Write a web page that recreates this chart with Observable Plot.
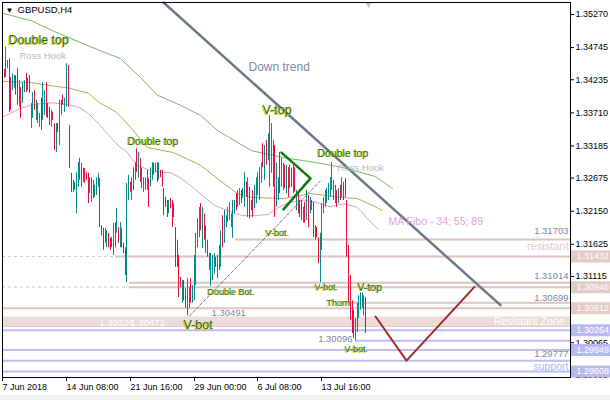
<!DOCTYPE html>
<html><head><meta charset="utf-8">
<script src="https://cdn.jsdelivr.net/npm/d3@7"></script>
<script src="https://cdn.jsdelivr.net/npm/@observablehq/plot@0.6"></script>
<style>
body{margin:0;background:#f0f0f0;}
#chart svg{display:block;background:#fff;}
</style></head><body><div id="chart"></div>
<script>
// ---- H4 bars (high / low / direction), bar index = H4 bar count from 7 Jun 2018 00:00
const barHigh = [
1.3435,1.3440,1.3475,1.3454,1.3457,1.3427,1.3433,1.3430,1.3430,1.3441,
1.3422,1.3411,1.3419,1.3422,1.3433,1.3426,1.3430,1.3386,1.3403,1.3406,
1.3391,1.3386,1.3370,1.3394,1.3419,1.3406,1.3419,1.3386,1.3380,1.3375,
1.3372,1.3354,1.3354,1.3354,1.3391,1.3391,1.3399,1.3394,1.3449,1.3446,
1.3351,1.3275,1.3264,1.3261,1.3276,1.3292,1.3299,1.3291,1.3283,1.3283,
1.3276,1.3275,1.3268,1.3268,1.3264,1.3256,1.3268,1.3275,1.3267,1.3192,
1.3188,1.3188,1.3184,1.3180,1.3172,1.3173,1.3196,1.3197,1.3219,1.3189,
1.3197,1.3188,1.3164,1.3157,1.3259,
1.3272,1.3261,1.3268,1.3284,1.3292,1.3314,1.3308,1.3299,1.3283,1.3268,
1.3268,1.3280,1.3267,1.3284,1.3292,1.3291,1.3291,1.3292,1.3291,1.3280,
1.3280,1.3251,1.3237,1.3232,1.3232,1.3235,1.3232,1.3227,1.3189,1.3169,
1.3145,1.3110,1.3105,1.3105,1.3092,1.3108,1.3094,1.3108,1.3097,1.3145,
1.3180,1.3203,1.3221,1.3227,1.3221,1.3211,1.3192,1.3169,1.3148,1.3148,
1.3145,1.3148,1.3142,1.3145,1.3161,1.3184,1.3208,1.3216,1.3208,1.3221,
1.3229,1.3211,1.3232,1.3232,1.3243,1.3248,1.3251,1.3248,1.3251,1.3276,
1.3261,1.3268,1.3253,1.3232,
1.3248,1.3256,1.3268,1.3276,1.3284,1.3292,1.3322,1.3319,1.3327,1.3338,
1.3367,1.3354,1.3327,1.3319,1.3291,1.3268,1.3308,1.3299,1.3291,1.3288,
1.3288,1.3284,1.3288,1.3283,1.3288,1.3284,1.3248,1.3243,1.3232,1.3232,
1.3221,1.3229,1.3248,1.3240,1.3237,1.3232,1.3229,1.3192,1.3189,1.3173,
1.3180,1.3227,1.3237,1.3248,1.3251,1.3259,1.3268,1.3292,1.3264,1.3256,
1.3248,1.3251,1.3256,1.3268,1.3261,1.3267,1.3232,1.3161,1.3113,1.3073,
1.3058,1.3045,1.3069,1.3081,1.3086,1.3085,1.3081,1.3078];
const barLow = [
1.3411,1.3426,1.3427,1.3441,1.3372,1.3375,1.3406,1.3410,1.3399,1.3383,
1.3380,1.3362,1.3386,1.3403,1.3403,1.3406,1.3402,1.3346,1.3362,1.3375,
1.3359,1.3354,1.3348,1.3343,1.3359,1.3367,1.3364,1.3362,1.3351,1.3348,
1.3359,1.3311,1.3308,1.3340,1.3319,1.3367,1.3383,1.3372,1.3380,1.3380,
1.3283,1.3245,1.3245,1.3248,1.3211,1.3253,1.3264,1.3253,1.3261,1.3259,
1.3264,1.3227,1.3243,1.3229,1.3235,1.3237,1.3240,1.3253,1.3189,1.3176,
1.3153,1.3164,1.3157,1.3157,1.3153,1.3157,1.3145,1.3157,1.3180,1.3164,
1.3157,1.3157,1.3148,1.3113,1.3102,
1.3232,1.3245,1.3232,1.3248,1.3264,1.3276,1.3267,1.3261,1.3251,1.3245,
1.3248,1.3248,1.3221,1.3253,1.3264,1.3272,1.3276,1.3261,1.3264,1.3268,
1.3253,1.3208,1.3221,1.3205,1.3211,1.3219,1.3189,1.3205,1.3126,1.3126,
1.3078,1.3094,1.3069,1.3073,1.3061,1.30491,1.3061,1.3069,1.3069,1.3073,
1.3097,1.3157,1.3173,1.3184,1.3156,1.3169,1.3148,1.3142,1.3121,1.3096,
1.3105,1.3116,1.3126,1.3108,1.3121,1.3126,1.3157,1.3164,1.3189,1.3197,
1.3200,1.3189,1.3172,1.3211,1.3216,1.3221,1.3224,1.3227,1.3235,1.3221,
1.3237,1.3205,1.3203,1.3216,
1.3205,1.3219,1.3227,1.3240,1.3232,1.3259,1.3284,1.3264,1.3288,1.3295,
1.3253,1.3275,1.3253,1.3205,1.3221,1.3232,1.3243,1.3253,1.3248,1.3251,
1.3243,1.3237,1.3251,1.3253,1.3243,1.3245,1.3216,1.3211,1.3205,1.3200,
1.3196,1.3196,1.3200,1.3189,1.3211,1.3216,1.3173,1.3169,1.3173,1.3132,
1.3102,1.3153,1.3211,1.3221,1.3227,1.3232,1.3237,1.3248,1.3232,1.3227,
1.3221,1.3227,1.3232,1.3237,1.3232,1.3237,1.3142,1.3069,1.3042,1.3021,
1.3013,1.30096,1.3023,1.3045,1.3058,1.3061,1.3049,1.3021];
const barDir = ("uduudduudd"+"uduududuud"+"uuuduudddu"+"dduduuduud"+"dduuuuudud"+"dduuduuudd"+"duuddduuud"+"udddu"
 +"ududududuu"+"duduududud"+"dddduddddd"+"ddudduuduu"+"uuudududuu"+"uuduuuduuu"+"uuuuduuduu"+"dudd"
 +"duuuuududu"+"uudduuduud"+"ududududdd"+"ududuudddd"+"uuuuuuuudu"+"dududddddd"+"duuuuuud").split("");

// ---- moving averages (MA Fibo 34 / 55 / 89)
const ma89Idx = [0,17,29,46,58,70,82,92,106,118,128,148,167,187,203,222,232];
const ma89Val = [1.3529,1.3517,1.3502,1.3483,1.3470,1.3457,1.3427,1.3399,1.3383,1.3367,1.3343,1.3311,1.3300,1.3292,1.3284,1.3270,1.3251];
const ma55Idx = [0,17,29,40,51,58,68,76,86,102,118,129,140,148,167,183,201,211,222,226];
const ma55Val = [1.3421,1.3419,1.3414,1.3410,1.3402,1.3387,1.3372,1.3348,1.3316,1.3308,1.3288,1.3264,1.3243,1.3237,1.3235,1.3243,1.3237,1.3235,1.3222,1.3216];
const ma34Idx = [0,11,18,29,39,45,51,57,64,70,74,80,90,100,106,114,119,126,134,142,151,158,164,171,179,187,195,203,211,217,224];
const ma34Val = [1.3364,1.3378,1.3384,1.3387,1.3384,1.3380,1.3370,1.3354,1.3332,1.3316,1.3310,1.3288,1.3278,1.3276,1.3268,1.3251,1.3240,1.3224,1.3216,1.3208,1.3208,1.3210,1.3221,1.3229,1.3232,1.3229,1.3222,1.3227,1.3221,1.3203,1.3186];

// ---- axes
const timeTickIdx = [0, 38, 76, 114, 152, 190];
const timeTickLabels = ["7 Jun 2018", "14 Jun 08:00", "21 Jun 16:00", "29 Jun 00:00", "6 Jul 08:00", "13 Jul 16:00"];
const priceTicks = [1.35270, 1.34745, 1.34235, 1.33710, 1.33185, 1.32675, 1.32150, 1.31625, 1.31115, 1.30590, 1.30065, 1.29555];
const lastIdx = 338;

// ---- levels
const resistPrices = [1.31703, 1.31432, 1.31014, 1.30946, 1.30699, 1.30612];
const resistStart  = [138.6, 67.2, 75.6, 75.6, 205.3, 0];
const resistDashedBefore = [1.31432, 1.30946];
const resistDashedEnd = [67.2, 75.6];
const supportPrices = [1.30264, 1.30096, 1.29949, 1.29777, 1.29608];
const supportStart  = [0, 210, 0, 0, 0];
const zoneHigh = 1.30472, zoneLow = 1.30326;
const pinkBoxPrices = [1.31432, 1.30946, 1.30612];
const blueBoxPrices = [1.30264, 1.29949, 1.29608];

// ---- drawn lines
const downTrendIdx = [95.8, 296.3], downTrendVal = [1.3546, 1.3066];
const upTrendIdx = [111, 190], upTrendVal = [1.3049, 1.3265];
const wedgeIdx = [166, 183.3, 167.2], wedgeVal = [1.3308, 1.3267, 1.3218];
const projIdx = [222, 240.4, 280.9], projVal = [1.3048, 1.2978, 1.3095];

// ---- annotations
const bigLabels = ["Double top", "V-top", "V-bot"];
const bigIdx = [3.6, 154.7, 107.7], bigVal = [1.3486, 1.3375, 1.3034];
const midLabels = ["Double top", "Double top", "V-top"];
const midIdx = [74.4, 187.4, 211.2], midVal = [1.3326, 1.3307, 1.3094];
const smallLabels = ["V-bot.", "Double Bot.", "V-bot.", "Thorn", "V-bot."];
const smallIdx = [156.5, 122, 185.7, 192.8, 203.5], smallVal = [1.3181, 1.3087, 1.3094, 1.3070, 1.2996];
const hookIdx = [10.1, 199.3], hookVal = [1.3462, 1.3283];
const levelTagText = ["1.31703", "1.31014", "1.30699", "1.29777"];
const levelTagVal = [1.3183, 1.3112, 1.3078, 1.2988];

const pts = (I, V) => I.map((i, k) => ({i, p: V[k]}));
const bars = barHigh.map((h, i) => ({i, high: h, low: barLow[i], up: barDir[i] === "u"}));

const PINK = "#dcc4bf", PINKBOX = "#e2cac5", ZONE = "#eddcd8", BLUE = "#bdbdf4", BLUEBOX = "#b9b9f0";
const LBL = "#236b23", SHADOW = "#d9cb00", TAG = "#7c88a8";
const F = "Liberation Sans, Arial, sans-serif";

function label(texts, I, V, size) {
  const d = texts.map((t, k) => ({t, i: I[k], p: V[k]}));
  return [
    Plot.text(d, {x: "i", y: "p", text: "t", textAnchor: "start", fontSize: size, fill: SHADOW, dx: -1, dy: 0.5}),
    Plot.text(d, {x: "i", y: "p", text: "t", textAnchor: "start", fontSize: size, fill: LBL})
  ];
}

const chart = Plot.plot({
  width: 610, height: 395,
  marginLeft: 2, marginRight: 40, marginTop: 2, marginBottom: 18,
  style: {fontFamily: F, background: "#fff", overflow: "visible"},
  x: {domain: [0, lastIdx], round: true, label: null},
  y: {domain: [1.29513, 1.35460], label: null},
  marks: [
    // resistant zone
    Plot.rect([{lo: zoneLow, hi: zoneHigh}], {x1: () => 0, x2: () => lastIdx, y1: "lo", y2: "hi", fill: ZONE}),
    Plot.ruleY([zoneLow], {x1: () => 0, x2: () => lastIdx, stroke: "#c9bdbb", strokeWidth: 1}),
    // level lines
    Plot.ruleY(resistDashedBefore, {x1: () => 0, x2: (d, k) => resistDashedEnd[k], stroke: PINK, strokeWidth: 1, strokeDasharray: "3,3"}),
    Plot.ruleY(resistPrices, {x1: (d, k) => resistStart[k], x2: () => lastIdx, stroke: PINK, strokeWidth: 2}),
    Plot.ruleY(supportPrices, {x1: (d, k) => supportStart[k], x2: () => lastIdx, stroke: BLUE, strokeWidth: 2}),
    // moving averages
    Plot.line(pts(ma89Idx, ma89Val), {x: "i", y: "p", stroke: "#7db56a", strokeWidth: 1}),
    Plot.line(pts(ma55Idx, ma55Val), {x: "i", y: "p", stroke: "#b5aa55", strokeWidth: 1}),
    Plot.line(pts(ma34Idx, ma34Val), {x: "i", y: "p", stroke: "#dc9ade", strokeWidth: 1}),
    // bars
    Plot.ruleX(bars, {x: "i", y1: "low", y2: "high", stroke: d => d.up ? "#078a8a" : "#e5103f", strokeWidth: 1}),
    // trend lines
    Plot.line(pts(downTrendIdx, downTrendVal), {x: "i", y: "p", stroke: "#6e7889", strokeWidth: 2.5}),
    Plot.line(pts(upTrendIdx, upTrendVal), {x: "i", y: "p", stroke: "#555", strokeWidth: 0.8, strokeDasharray: "3,2"}),
    Plot.line(pts(wedgeIdx, wedgeVal), {x: "i", y: "p", stroke: "#0d7a0d", strokeWidth: 2.5}),
    Plot.line(pts(projIdx, projVal), {x: "i", y: "p", stroke: "#a52a2a", strokeWidth: 2}),
    // texts
    ...label(bigLabels, bigIdx, bigVal, 12.5),
    ...label(midLabels, midIdx, midVal, 10.5),
    ...label(smallLabels, smallIdx, smallVal, 9),
    Plot.text(pts(hookIdx, hookVal), {x: "i", y: "p", text: () => "Ross Hook", textAnchor: "start", fontSize: 9.5, fill: "#b9b9b9"}),
    Plot.text([{i: 146.4, p: 1.3443}], {x: "i", y: "p", text: () => "Down trend", textAnchor: "start", fontSize: 12, fill: "#8088a8"}),
    Plot.text([{i: 229.7, p: 1.3199}], {x: "i", y: "p", text: () => "MA Fibo - 34; 55; 89", textAnchor: "start", fontSize: 10.5, fill: "#e2a2e2"}),
    Plot.text(pts(levelTagText.map(() => 336.8), levelTagVal), {x: "i", y: "p", text: (d, k) => levelTagText[k], textAnchor: "end", fontSize: 9.5, fill: TAG}),
    Plot.text([{i: 336.8, p: 1.3159}], {x: "i", y: "p", text: () => "resistant", textAnchor: "end", fontSize: 11, fill: "#e6c9c5"}),
    Plot.text([{i: 336.8, p: 1.2969}], {x: "i", y: "p", text: () => "support", textAnchor: "end", fontSize: 10.5, fill: "#b2b2ee"}),
    Plot.text([{i: 334.5, p: 1.3040}], {x: "i", y: "p", text: () => "Resistant Zone", textAnchor: "end", fontSize: 10.5, fill: "#fff"}),
    Plot.text([{i: 208.3, p: 1.3012}], {x: "i", y: "p", text: () => "1.30096", textAnchor: "end", fontSize: 9.5, fill: TAG}),
    Plot.text([{i: 124.4, p: 1.3053}], {x: "i", y: "p", text: () => "1.30491", textAnchor: "start", fontSize: 9.5, fill: TAG}),
    Plot.text([{i: 57.7, p: 1.3038, t: "1.30326"}, {i: 76.2, p: 1.3038, t: "1.30472"}], {x: "i", y: "p", text: "t", textAnchor: "start", fontSize: 9.5, fill: "#fff"}),
    // title and shift marker
    Plot.text(["\u25BC"], {frameAnchor: "top-left", text: d => d, dx: 3, dy: 5, lineAnchor: "top", textAnchor: "start", fontSize: 8, fill: "#000"}),
    Plot.text(["GBPUSD,H4"], {frameAnchor: "top-left", text: d => d, dx: 15, dy: 4, lineAnchor: "top", textAnchor: "start", fontSize: 9.5, fill: "#000"}),
    Plot.text([217.8], {x: d => d, frameAnchor: "top", text: () => "\u25BC", lineAnchor: "top", dy: -1, fontSize: 9, fill: "#c4c4c4"}),
    // axes
    Plot.axisX(timeTickIdx, {anchor: "bottom", label: null, tickSize: 4, tickPadding: 2, tickFormat: d => timeTickLabels[timeTickIdx.indexOf(d)], textAnchor: "start", dx: 0, fontSize: 9, fill: "#000", stroke: "#000"}),
    Plot.axisY(priceTicks, {anchor: "right", label: null, tickSize: 3, tickPadding: 2, tickFormat: d => d.toFixed(5), fontSize: 9, fill: "#000", stroke: "#000"}),
    // price boxes
    Plot.ruleY(pinkBoxPrices, {x1: () => lastIdx, x2: () => lastIdx + 24, stroke: PINKBOX, strokeWidth: 12}),
    Plot.ruleY(blueBoxPrices, {x1: () => lastIdx, x2: () => lastIdx + 24, stroke: BLUEBOX, strokeWidth: 12}),
    Plot.text(pinkBoxPrices.concat(blueBoxPrices), {frameAnchor: "right", y: d => d, text: d => d.toFixed(5), textAnchor: "start", dx: 6, fontSize: 9, fill: "#fff"}),
    Plot.frame({stroke: "#000"})
  ]
});
document.getElementById("chart").append(chart);
</script></body></html>
